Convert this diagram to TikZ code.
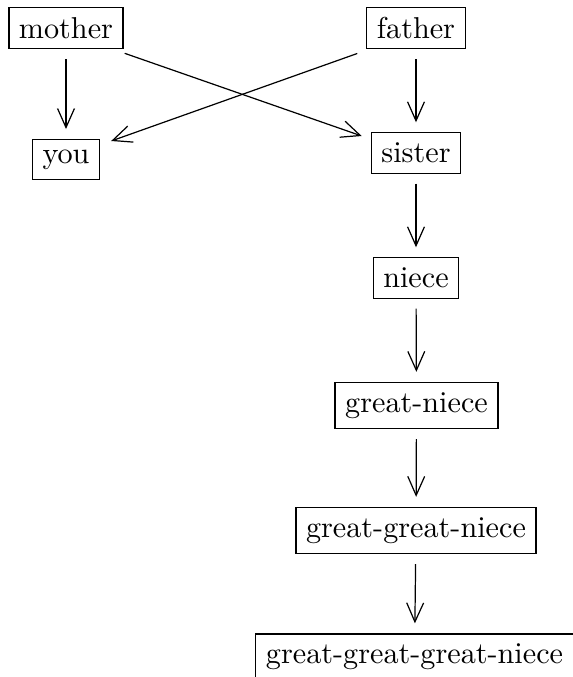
\documentclass[tikz,border=0pt]{standalone}
\usetikzlibrary{arrows.meta}
\begin{document}
\begin{tikzpicture}[x=0.3311pt, y=-0.3311pt,
  person/.style={draw, line width=0.4pt, inner sep=3.333pt},
  link/.style={-{Straight Barb[length=6.3pt, width=5.6pt, line width=0.4pt]},
              line width=0.4pt},
  rel/.style={link, shorten <=3.3pt, shorten >=3.3pt}]
  \useasboundingbox (0,0) rectangle (573,677);
  \clip (0,0) rectangle (573,677);

  % family nodes
  \node[person] (mother) at (66,28) {mother};
  \node[person] (father) at (416,28) {father};
  \node[person] (you)    at (66,159.5) {you};
  \node[person] (sister) at (416,153) {sister};
  \node[person] (niece)  at (416,278) {niece};
  \node[person] (gn)     at (416.5,405.5) {great-niece};
  \node[person] (ggn)    at (416,530.5) {great-great-niece};
  \node[person] (gggn)   at (414.5,657) {great-great-great-niece};

  % parent links
  \draw[rel] (mother) -- (you);
  \draw[link] ([shift={(1,4)}]mother.south east) -- ([shift={(-9,-17)}]sister.west);
  \draw[link] ([shift={(-9,4)}]father.south west) -- ([shift={(11,-18.5)}]you.east);
  \draw[rel] (father) -- (sister);

  % descendants
  \draw[rel] (sister) -- (niece);
  \draw[rel] (niece) -- (gn);
  \draw[rel] (gn) -- (ggn);
  \draw[rel] (ggn) -- (gggn);
\end{tikzpicture}
\end{document}
